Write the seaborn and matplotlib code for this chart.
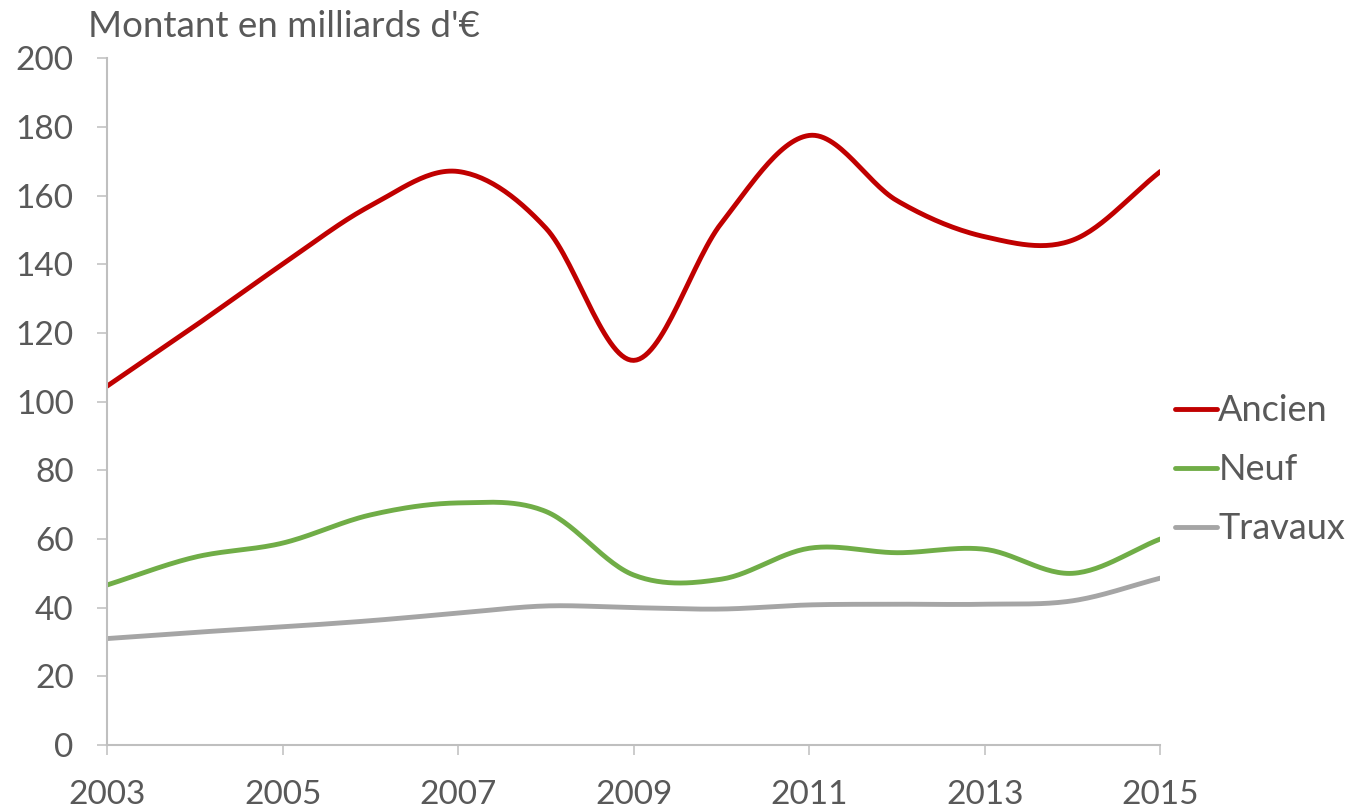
import numpy as np
import pandas as pd
import matplotlib
matplotlib.use('Agg')
import matplotlib.pyplot as plt
import seaborn as sns

# données
annees = [2003, 2004, 2005, 2006, 2007, 2008, 2009, 2010, 2011, 2012, 2013, 2014, 2015]
ancien = [104.5, 122, 140, 157, 167, 150.5, 112, 152, 177.5, 158.5, 148, 147, 167]
neuf = [46.6, 54.7, 58.8, 67, 70.5, 68, 49.5, 48.3, 57.3, 56, 57, 50, 60]
travaux = [31, 32.8, 34.4, 36.2, 38.4, 40.5, 40, 39.6, 40.8, 41, 41, 42, 48.6]
series = ['Ancien', 'Neuf', 'Travaux']
couleurs = ['#C00000', '#70AD47', '#A5A5A5']

# courbe lissée type Excel (Catmull-Rom)
def lisser(x, y, n=30):
    x = np.asarray(x, float)
    y = np.asarray(y, float)
    px = np.concatenate([[2 * x[0] - x[1]], x, [2 * x[-1] - x[-2]]])
    py = np.concatenate([[2 * y[0] - y[1]], y, [2 * y[-1] - y[-2]]])
    xs, ys = [], []
    for i in range(1, len(px) - 2):
        t = np.linspace(0, 1, n, endpoint=False)
        for p, out in ((px, xs), (py, ys)):
            p0, p1, p2, p3 = p[i - 1], p[i], p[i + 1], p[i + 2]
            out.extend(0.5 * ((2 * p1) + (-p0 + p2) * t +
                              (2 * p0 - 5 * p1 + 4 * p2 - p3) * t ** 2 +
                              (-p0 + 3 * p1 - 3 * p2 + p3) * t ** 3))
    xs.append(x[-1])
    ys.append(y[-1])
    return xs, ys

frames = []
for nom, vals in zip(series, [ancien, neuf, travaux]):
    xs, ys = lisser(annees, vals)
    frames.append(pd.DataFrame({'Année': xs, 'Montant': ys, 'Type': nom}))
df = pd.concat(frames, ignore_index=True)

sns.set_style('white')
plt.rcParams['font.family'] = ['Lato', 'DejaVu Sans']
gris = '#595959'
axe = '#BFBFBF'

fig = plt.figure(figsize=(13.6, 8.1), dpi=100)
ax = fig.add_axes([0.0787, 0.0802, 0.7745, 0.848])
sns.lineplot(data=df, x='Année', y='Montant', hue='Type', palette=couleurs,
             linewidth=3.5, ax=ax, sort=False, estimator=None)

ax.set_xlim(2003, 2015)
ax.set_ylim(0, 200)
ax.set_xticks(range(2003, 2016, 2))
ax.set_yticks(range(0, 201, 20))
ax.set_xlabel('')
ax.set_ylabel('')
for s in ['top', 'right']:
    ax.spines[s].set_visible(False)
for s in ['left', 'bottom']:
    ax.spines[s].set_color(axe)
    ax.spines[s].set_linewidth(1.5)
ax.tick_params(axis='both', colors=axe, length=7, width=1.1, direction='out',
               labelcolor=gris, labelsize=24, bottom=True, left=True)
ax.tick_params(axis='x', pad=18)
ax.tick_params(axis='y', pad=17)

fig.text(0.065, 0.967, "Montant en milliards d'€", fontsize=26.5, color=gris,
         va='center', ha='left')

leg = ax.legend(loc='center left', bbox_to_anchor=(0.864, 0.42),
                bbox_transform=fig.transFigure, frameon=False, fontsize=26,
                handlelength=1.15, handletextpad=0.05, labelspacing=0.72,
                borderpad=0, borderaxespad=0)
for t in leg.get_texts():
    t.set_color(gris)

fig.savefig('out.png', dpi=100, facecolor='white')
